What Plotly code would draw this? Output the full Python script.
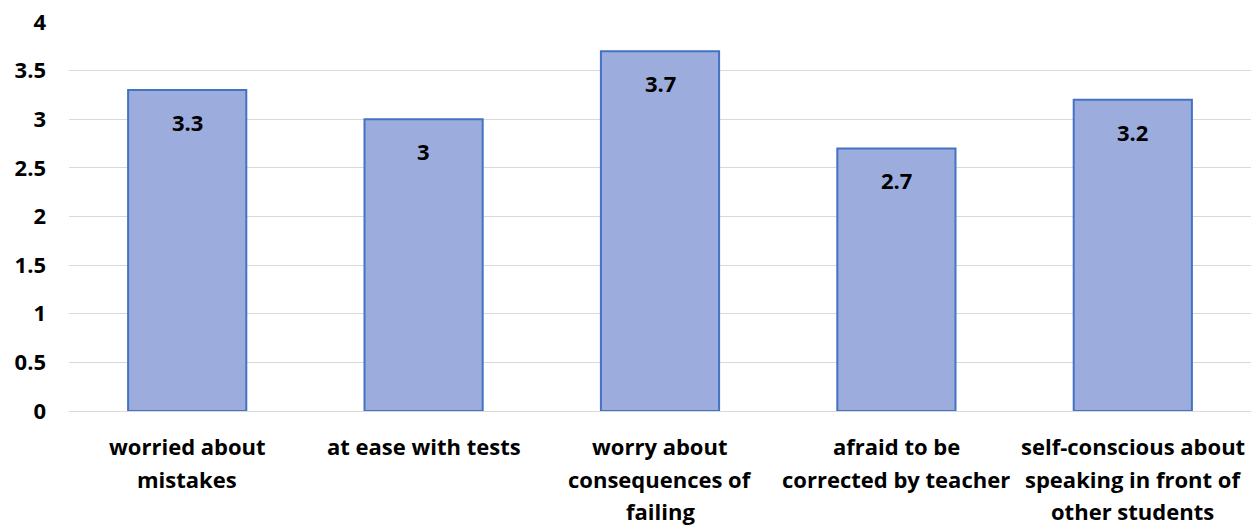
import plotly.graph_objects as go

categories = [
    "worried about<br>mistakes",
    "at ease with tests",
    "worry about<br>consequences of<br>failing",
    "afraid to be<br>corrected by teacher",
    "self-conscious about<br>speaking in front of<br>other students",
]
values = [3.3, 3.0, 3.7, 2.7, 3.2]
y_ticks = [0, 0.5, 1, 1.5, 2, 2.5, 3, 3.5, 4]
y_tick_labels = ["0", "0.5", "1", "1.5", "2", "2.5", "3", "3.5", "4"]

FONT = "Open Sans"
BOLD = dict(family=FONT, size=22, color="#000000", weight="bold")

fig = go.Figure(
    go.Bar(
        x=categories,
        y=values,
        width=0.5,
        marker=dict(color="#9BACDD", line=dict(color="#4472C4", width=2)),
        hoverinfo="x+y",
    )
)

# data labels, placed inside each bar just below its top
for cat, v in zip(categories, values):
    fig.add_annotation(
        x=cat, y=v, xref="x", yref="y",
        text=f"{v:g}", showarrow=False,
        yanchor="middle", yshift=-32,
        font=BOLD,
    )

# category labels, one annotation per line for Excel-like line spacing
for cat in categories:
    for i, line in enumerate(cat.split("<br>")):
        fig.add_annotation(
            x=cat, y=0, xref="x", yref="y",
            text=line, showarrow=False,
            yanchor="middle", yshift=-35 - 32.5 * i,
            font=BOLD,
        )

fig.update_layout(
    width=1258,
    height=526,
    margin=dict(l=69, r=7, t=22, b=115),
    paper_bgcolor="white",
    plot_bgcolor="white",
    showlegend=False,
    font=BOLD,
    bargap=0.5,
)
fig.update_xaxes(
    showgrid=False,
    showline=False,
    ticks="",
    showticklabels=False,
)
fig.update_yaxes(
    range=[0, 4],
    tickvals=y_ticks,
    ticktext=y_tick_labels,
    showgrid=True,
    gridcolor="#D9D9D9",
    gridwidth=1,
    zeroline=True,
    zerolinecolor="#D9D9D9",
    zerolinewidth=1,
    showline=False,
    ticks="",
    ticklabelstandoff=22,
    tickfont=BOLD,
)

fig.write_html(
    "out.html",
    config={"displayModeBar": False},
    post_script="document.body.style.margin='0';document.body.style.overflow='hidden';",
)
